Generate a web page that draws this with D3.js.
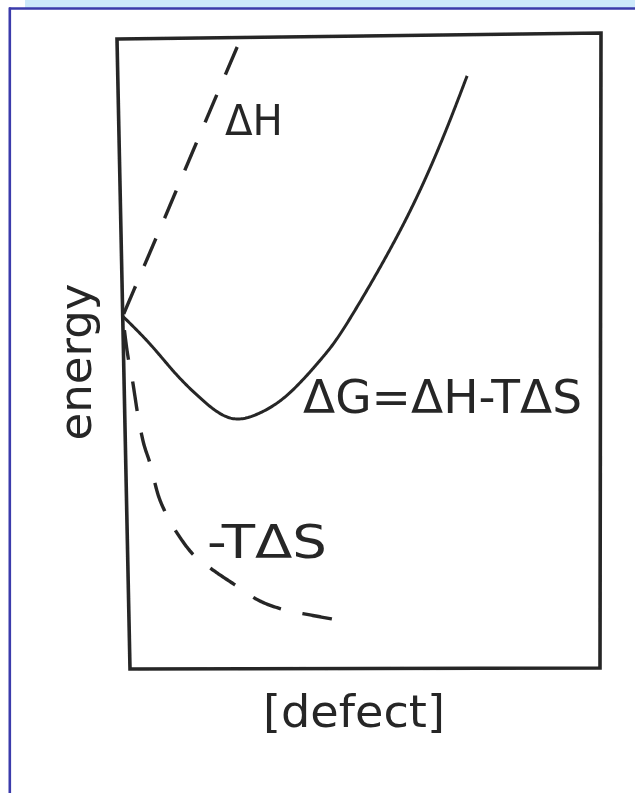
<!DOCTYPE html>
<html>
<head>
<meta charset="utf-8">
<script src="https://cdn.jsdelivr.net/npm/d3@7"></script>
<style>
  html, body { margin: 0; padding: 0; background: #ffffff; }
  svg { display: block; }
  text { font-family: "DejaVu Sans", sans-serif; fill: #282828; }
</style>
</head>
<body>
<svg id="chart" width="635" height="793"></svg>
<script>
// Defect concentration (arbitrary units) and energy values along each curve
const gDefect = [0, 0.56, 1.07, 1.59, 2.21, 2.84, 3.48, 4.18, 4.76, 5.82, 6.66, 7.23];
const gEnergy = [0, -0.89, -1.81, -2.61, -3.25, -3.10, -2.46, -1.34, -0.12, 2.64, 5.33, 7.50];

const hDefect = [0, 0.88, 2.48];
const hEnergy = [0, 2.98, 8.5];

const sDefect = [0, 0.075, 0.19, 0.26, 0.37, 0.51, 0.67, 0.81, 1.11, 1.36, 1.74, 2.26, 2.74, 3.31, 3.84, 4.42];
const sEnergy = [0, -1.08, -2.18, -2.98, -3.94, -4.67, -5.68, -6.22, -7.02, -7.53, -8.00, -8.54, -9.02, -9.34, -9.50, -9.66];

const defectDomain = [0, 10];
const energyDomain = [-11.2, 8.8];

const xTitle = "[defect]";
const yTitle = "energy";
const labelH = "ΔH";
const labelG = "ΔG=ΔH-TΔS";
const labelS = "-TΔS";

// ---- layout ----
const W = 484, H = 630;                 // nominal plot box
// the printed page is slightly skewed: four corners of the plot frame
const TL = [117, 39], TR = [601, 33], BL = [130, 669], BR = [600, 668];

const svg = d3.select("#chart");

// page frame: light band on top, blue rule on top and left
svg.append("rect").attr("x", 0).attr("y", 0).attr("width", 635).attr("height", 793).attr("fill", "#ffffff");
svg.append("rect").attr("x", 25).attr("y", 0).attr("width", 610).attr("height", 8).attr("fill", "#cde9fb");
svg.append("line").attr("x1", 9).attr("x2", 635).attr("y1", 8.5).attr("y2", 8.5)
  .attr("stroke", "#3b3bab").attr("stroke-width", 2.5);
svg.append("line").attr("x1", 9.8).attr("x2", 9.8).attr("y1", 7.5).attr("y2", 793)
  .attr("stroke", "#3b3bab").attr("stroke-width", 2.6);

const defs = svg.append("defs");
defs.append("filter").attr("id", "soft")
  .attr("x", "-5%").attr("y", "-5%").attr("width", "110%").attr("height", "110%")
  .append("feGaussianBlur").attr("stdDeviation", 0.55);

const x = d3.scaleLinear().domain(defectDomain).range([0, W]);
const y = d3.scaleLinear().domain(energyDomain).range([H, 0]);

function warp(px, py) {
  const u = px / W, v = py / H;
  return [
    (1 - u) * (1 - v) * TL[0] + u * (1 - v) * TR[0] + (1 - u) * v * BL[0] + u * v * BR[0],
    (1 - u) * (1 - v) * TL[1] + u * (1 - v) * TR[1] + (1 - u) * v * BL[1] + u * v * BR[1]
  ];
}

// build a smooth path in the nominal box, sample it, and map the samples onto the page
const scratch = defs.append("path");
function warpedPath(xs, ys, curve) {
  const pts = xs.map((d, i) => [x(d), y(ys[i])]);
  const gen = d3.line().curve(curve);
  scratch.attr("d", gen(pts));
  const node = scratch.node();
  const len = node.getTotalLength();
  const n = Math.max(2, Math.ceil(len / 1.5));
  const out = [];
  for (let i = 0; i <= n; i++) {
    const p = node.getPointAtLength(len * i / n);
    out.push(warp(p.x, p.y));
  }
  return d3.line()(out);
}

const g = svg.append("g").attr("filter", "url(#soft)");

// plot frame
const frameCorners = [
  [defectDomain[0], energyDomain[1]], [defectDomain[1], energyDomain[1]],
  [defectDomain[1], energyDomain[0]], [defectDomain[0], energyDomain[0]]
].map(d => warp(x(d[0]), y(d[1])));
g.append("path")
  .attr("d", d3.line()(frameCorners) + "Z")
  .attr("fill", "none").attr("stroke", "#262626").attr("stroke-width", 3.6)
  .attr("stroke-linejoin", "miter");

// ΔH (dashed, drawn from its upper end down to the origin)
g.append("path")
  .attr("d", warpedPath(hDefect.slice().reverse(), hEnergy.slice().reverse(), d3.curveLinear))
  .attr("fill", "none").attr("stroke", "#262626").attr("stroke-width", 3.4)
  .attr("stroke-dasharray", "30 22").attr("stroke-linecap", "butt");

// -TΔS (dashed)
g.append("path")
  .attr("d", warpedPath(sDefect, sEnergy, d3.curveMonotoneX))
  .attr("fill", "none").attr("stroke", "#262626").attr("stroke-width", 3.4)
  .attr("stroke-dasharray", "30 22").attr("stroke-dashoffset", 38);

// ΔG (solid)
g.append("path")
  .attr("d", warpedPath(gDefect, gEnergy, d3.curveNatural))
  .attr("fill", "none").attr("stroke", "#262626").attr("stroke-width", 3);

// curve labels
function label(txt, px, py, size, len) {
  return g.append("text").attr("x", px).attr("y", py)
    .attr("font-size", size)
    .attr("textLength", len).attr("lengthAdjust", "spacingAndGlyphs")
    .text(txt);
}
label(labelH, 225, 135, 42, 58);
label(labelG, 303, 413, 46, 279);
label(labelS, 207, 558, 47, 120);

// axis titles
g.append("text")
  .attr("x", 354).attr("y", 727)
  .attr("text-anchor", "middle")
  .attr("font-size", 45)
  .attr("textLength", 182).attr("lengthAdjust", "spacingAndGlyphs")
  .text(xTitle);

g.append("text")
  .attr("transform", "translate(91,362) rotate(-90)")
  .attr("text-anchor", "middle")
  .attr("font-size", 45)
  .attr("textLength", 157).attr("lengthAdjust", "spacingAndGlyphs")
  .text(yTitle);
</script>
</body>
</html>
